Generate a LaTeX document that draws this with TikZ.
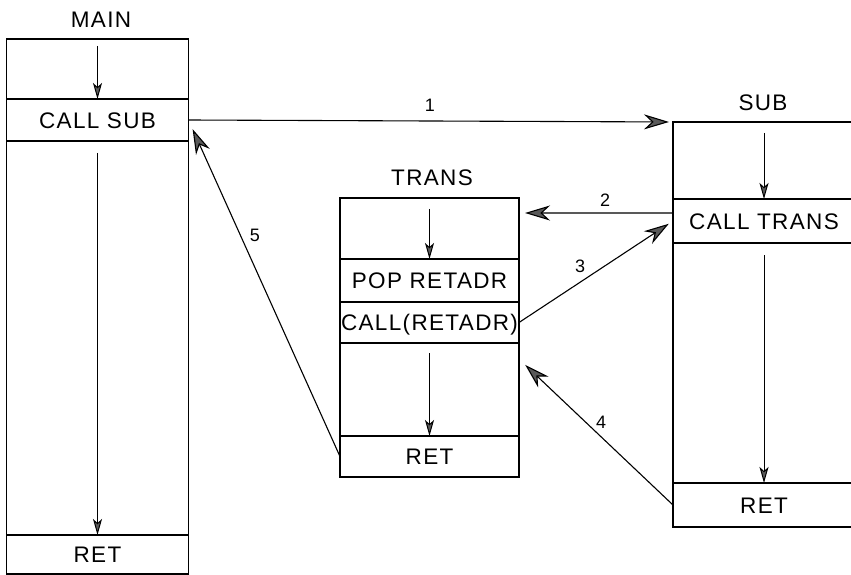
\documentclass[tikz,border=0pt]{standalone}
\usepackage{fontspec}
\setmainfont{Liberation Sans}[LetterSpace=6]
\usetikzlibrary{arrows.meta}
\begin{document}
\begin{tikzpicture}[x=1bp,y=-1bp,
  row/.style={draw, line width=1.3bp, rectangle, inner sep=0pt, outer sep=0pt,
    anchor=north west, text height=16.1bp, text depth=0pt,
    font=\fontsize{22.5bp}{27bp}\selectfont},
  ttl/.style={inner sep=0pt, font=\fontsize{22.5bp}{27bp}\selectfont},
  num/.style={inner sep=0pt, font=\fontsize{18bp}{21bp}\selectfont},
  flow/.style={line width=1bp, -{Stealth[length=16bp,width=9bp,inset=4bp,fill=black!65]}},
  link/.style={line width=1.1bp, -{Stealth[length=25bp,width=15bp,inset=8bp,fill=black!65]}},
]
\useasboundingbox (0,0) rectangle (851,575);
\clip (0,0) rectangle (851,575);
\fill[white] (0,0) rectangle (851,575);

% MAIN
\node[row, minimum width=182bp, minimum height=60bp]  (mainA) at (6.5,39) {};
\node[row, minimum width=182bp, minimum height=42bp]  (mainB) at (6.5,99) {CALL SUB};
\node[row, minimum width=182bp, minimum height=394bp] (mainC) at (6.5,141) {};
\node[row, minimum width=182bp, minimum height=39bp]  (mainD) at (6.5,535) {RET};
\node[ttl] (mainT) at (101,20) {MAIN};

% TRANS
\node[row, minimum width=179bp, minimum height=61bp] (transA) at (340,198) {};
\node[row, minimum width=179bp, minimum height=43bp] (transB) at (340,259) {POP RETADR};
\node[row, minimum width=179bp, minimum height=41bp] (transC) at (340,302) {CALL(RETADR)};
\node[row, minimum width=179bp, minimum height=93bp] (transD) at (340,343) {};
\node[row, minimum width=179bp, minimum height=41bp] (transE) at (340,436) {RET};
\node[ttl] (transT) at (432,178) {TRANS};

% SUB
\node[row, minimum width=182bp, minimum height=77bp]  (subA) at (673,122) {};
\node[row, minimum width=182bp, minimum height=44bp]  (subB) at (673,199) {CALL TRANS};
\node[row, minimum width=182bp, minimum height=240bp] (subC) at (673,243) {};
\node[row, minimum width=182bp, minimum height=44bp]  (subD) at (673,483) {RET};
\node[ttl] (subT) at (763,103) {SUB};

% flow arrows inside boxes
\draw[flow] ([yshift=-7bp]mainA.north) -- (mainB.north);
\draw[flow] ([yshift=-12bp]mainC.north) -- (mainD.north);
\draw[flow] ([yshift=-11bp]transA.north) -- (transB.north);
\draw[flow] ([yshift=-10bp]transD.north) -- (transE.north);
\draw[flow] ([yshift=-11bp]subA.north) -- (subB.north);
\draw[flow] ([yshift=-12bp]subC.north) -- (subD.north);

% links between routines
\draw[link, shorten >=4bp] (mainB.east) -- (subA.north west);
\draw[link, shorten >=6bp] ([yshift=8bp]subB.west) -- ([yshift=15.5bp]transA.east);
\draw[link, shorten >=5bp] (transC.east) -- (subB.west);
\draw[link, shorten >=8.5bp] (subD.west) -- ([yshift=-16bp]transD.north east);
\draw[link, shorten >=10bp] (transE.west) -- (mainB.east);

% numbers
\node[num] (n1) at (430,105) {1};
\node[num] (n2) at (605,200) {2};
\node[num] (n3) at (580,266) {3};
\node[num] (n4) at (601,422) {4};
\node[num] (n5) at (255,235) {5};
\end{tikzpicture}
\end{document}
